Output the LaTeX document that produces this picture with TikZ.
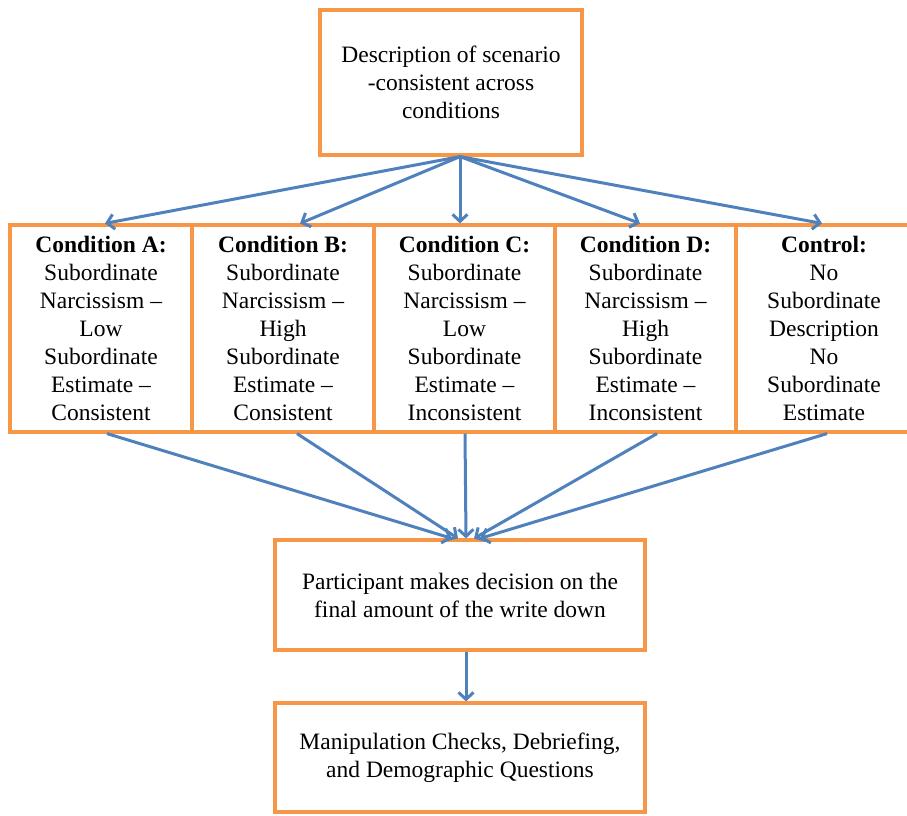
\documentclass[tikz,border=0pt]{standalone}
\usepackage{xcolor}
\usepackage{fontspec}
\setmainfont{Liberation Serif}
\usetikzlibrary{arrows.meta,positioning}

\definecolor{boxorange}{RGB}{247,150,70}
\definecolor{arrowblue}{RGB}{79,129,189}

\begin{document}
\begin{tikzpicture}[x=1pt, y=1pt,
    box/.style={rectangle, draw=boxorange, line width=3.2pt, align=center, inner sep=0pt, font=\fontsize{23.5}{28}\selectfont},
    cond/.style={box, minimum height=207pt},
    flow/.style={draw=arrowblue, line width=3pt, -{Straight Barb[length=7pt,width=15pt]}}
]
    \useasboundingbox (0,0) rectangle (907,-815);

    % Scenario description
    \node[box, minimum width=262pt, minimum height=145pt] (desc) at (451,-82.5)
        {Description of scenario\\-consistent across\\conditions};

    % Row of conditions
    \node[cond, minimum width=182pt] (condA) at (101,-328.5)
        {\textbf{Condition A:}\\Subordinate\\Narcissism --\\Low\\Subordinate\\Estimate --\\Consistent};
    \node[cond, minimum width=182pt] (condB) at (283,-328.5)
        {\textbf{Condition B:}\\Subordinate\\Narcissism --\\High\\Subordinate\\Estimate --\\Consistent};
    \node[cond, minimum width=181pt] (condC) at (464.5,-328.5)
        {\textbf{Condition C:}\\Subordinate\\Narcissism --\\Low\\Subordinate\\Estimate --\\Inconsistent};
    \node[cond, minimum width=181pt] (condD) at (645.5,-328.5)
        {\textbf{Condition D:}\\Subordinate\\Narcissism --\\High\\Subordinate\\Estimate --\\Inconsistent};
    \node[cond, minimum width=176pt] (control) at (824,-328.5)
        {\textbf{Control:}\\No\\Subordinate\\Description\\No\\Subordinate\\Estimate};

    % Decision and follow-up
    \node[box, minimum width=370pt, minimum height=110pt] (decision) at (460,-595)
        {Participant makes decision on the\\final amount of the write down};
    \node[box, minimum width=370pt, minimum height=109pt] (checks) at (460,-757.5)
        {Manipulation Checks, Debriefing,\\and Demographic Questions};

    % Draw connections
    \draw[flow] ([xshift=9pt]desc.south) -- ([xshift=4pt]condA.north);
    \draw[flow] ([xshift=9pt]desc.south) -- ([xshift=17pt]condB.north);
    \draw[flow] ([xshift=9pt]desc.south) -- ([xshift=-4.5pt]condC.north);
    \draw[flow] ([xshift=9pt]desc.south) -- ([xshift=-5.5pt]condD.north);
    \draw[flow] ([xshift=9pt]desc.south) -- ([xshift=-2pt]control.north);

    \draw[flow] ([xshift=6pt]condA.south) -- ([xshift=-8pt]decision.north);
    \draw[flow] ([xshift=14pt]condB.south) -- ([xshift=-2pt]decision.north);
    \draw[flow] ([xshift=0.5pt]condC.south) -- ([xshift=6pt]decision.north);
    \draw[flow] ([xshift=11.5pt]condD.south) -- ([xshift=14pt]decision.north);
    \draw[flow] ([xshift=3pt]control.south) -- ([xshift=20pt]decision.north);

    \draw[flow] ([xshift=6pt]decision.south) -- ([xshift=6pt]checks.north);
\end{tikzpicture}
\end{document}
